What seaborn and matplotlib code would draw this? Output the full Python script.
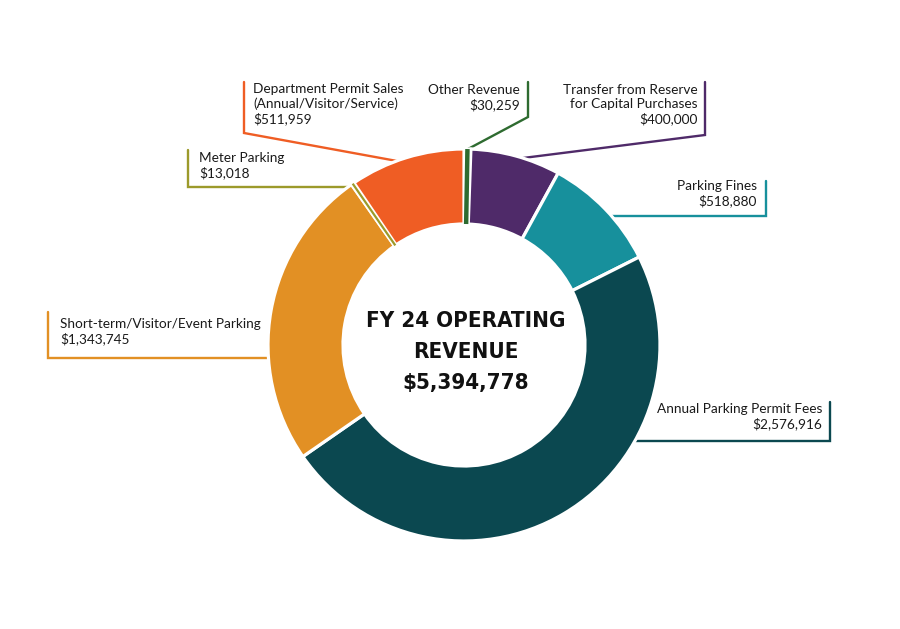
import matplotlib
matplotlib.use("Agg")
import matplotlib.pyplot as plt
import seaborn as sns
import numpy as np

# ---- data ----
categories = [
    "Other Revenue",
    "Transfer from Reserve\nfor Capital Purchases",
    "Parking Fines",
    "Annual Parking Permit Fees",
    "Short-term/Visitor/Event Parking",
    "Meter Parking",
    "Department Permit Sales\n(Annual/Visitor/Service)",
]
values = [30259, 400000, 518880, 2576916, 1343745, 13018, 511959]
value_labels = ["$30,259", "$400,000", "$518,880", "$2,576,916", "$1,343,745", "$13,018", "$511,959"]
colors = ["#2E6B30", "#4F2A69", "#17909C", "#0B4850", "#E29024", "#9C9A2B", "#EF5D24"]
center_title = ["FY 24 OPERATING", "REVENUE", "$5,394,778"]

sns.set_theme(style="white")
plt.rcParams["font.family"] = ["Lato", "DejaVu Sans"]

W, H = 900, 629
fig = plt.figure(figsize=(9, 6.29), dpi=100)
ax = fig.add_axes([0, 0, 1, 1])
ax.set_xlim(0, W)
ax.set_ylim(0, H)
ax.set_aspect("equal")
ax.axis("off")

def Y(py):
    return H - py

cx, cy = 464, 345
R = 196
r_in = 121

wedges, _ = ax.pie(values, colors=sns.color_palette(colors), startangle=90, counterclock=False,
                   center=(cx, Y(cy)), radius=R,
                   wedgeprops=dict(width=R - r_in, edgecolor="white", linewidth=2.3),
                   frame=True)
for w in wedges:
    w.set_zorder(3)
ax.set_xlim(0, W)
ax.set_ylim(0, H)
ax.axis("off")

# emphasize very thin slices so they remain visible
for w, c in zip(wedges, colors):
    span = abs(w.theta2 - w.theta1)
    if span < 3:
        mid = np.deg2rad((w.theta1 + w.theta2) / 2)
        lw = 3.2 if span > 1.5 else 1.6
        ax.plot([cx + r_in * np.cos(mid), cx + R * np.cos(mid)],
                [Y(cy) + r_in * np.sin(mid), Y(cy) + R * np.sin(mid)],
                color=c, lw=lw, solid_capstyle="butt", zorder=4)

# leader lines (pixel coordinates) and label anchors
leaders = {
    "Other Revenue": [(468, 149), (528, 117), (528, 82)],
    "Transfer from Reserve\nfor Capital Purchases": [(523, 158), (705, 135), (705, 82)],
    "Parking Fines": [(612, 216), (766, 216), (766, 181)],
    "Annual Parking Permit Fees": [(630, 441), (830, 441), (830, 402)],
    "Short-term/Visitor/Event Parking": [(270, 358), (48, 358), (48, 312)],
    "Meter Parking": [(352, 187), (188, 187), (188, 150)],
    "Department Permit Sales\n(Annual/Visitor/Service)": [(397, 161), (244, 133), (244, 82)],
}
label_pos = {
    "Other Revenue": (520, 84, "right"),
    "Transfer from Reserve\nfor Capital Purchases": (698, 84, "right"),
    "Parking Fines": (757, 180, "right"),
    "Annual Parking Permit Fees": (822, 403, "right"),
    "Short-term/Visitor/Event Parking": (60, 318, "left"),
    "Meter Parking": (199, 152, "left"),
    "Department Permit Sales\n(Annual/Visitor/Service)": (253, 83, "left"),
}

for cat, val, col in zip(categories, value_labels, colors):
    pts = leaders[cat]
    ax.plot([p[0] for p in pts], [Y(p[1]) for p in pts], color=col, lw=1.7,
            solid_joinstyle="miter", zorder=2)
    x, y, ha = label_pos[cat]
    ax.text(x, Y(y), f"{cat}\n{val}", ha=ha, va="top", fontsize=9.8,
            color="#1a1a1a", linespacing=1.2, multialignment=ha, zorder=5)

# center title
baselines = [327, 358, 389]
for t, b in zip(center_title, baselines):
    ax.text(cx + 2, Y(b), t, ha="center", va="baseline", fontsize=16,
            fontweight="heavy", fontstretch="condensed",
            family=["DejaVu Sans"], color="#111111", zorder=5)

fig.savefig("out.png", dpi=100, facecolor="white")
